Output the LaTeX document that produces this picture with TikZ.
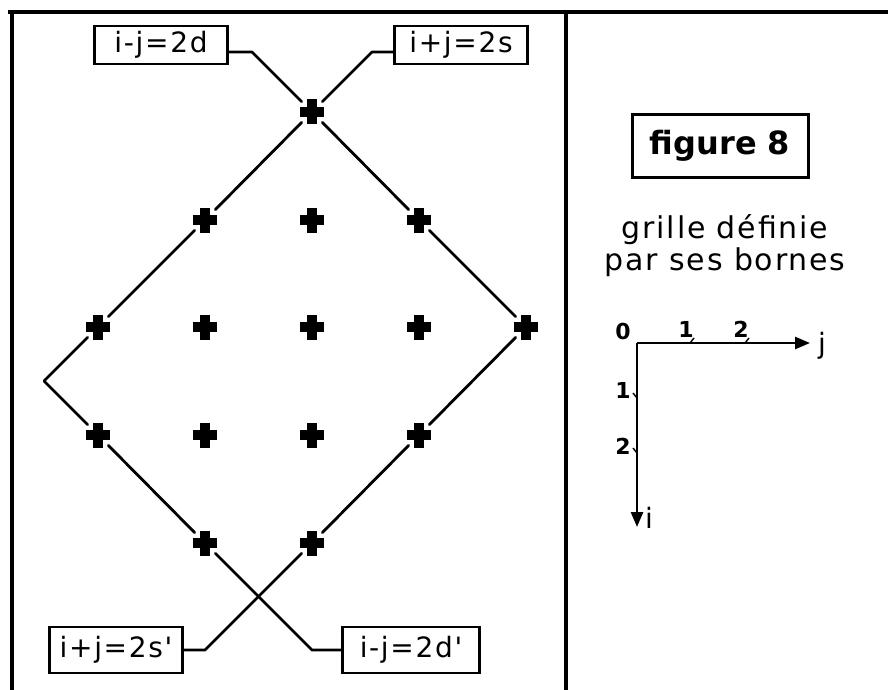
\documentclass[tikz,border=0pt]{standalone}
\usepackage{fontspec}
\setmainfont{DejaVu Sans}
\newfontfamily\lblfont[LetterSpace=6]{DejaVu Sans}
\newfontfamily\capfont[LetterSpace=6]{DejaVu Sans}
\usetikzlibrary{arrows.meta}
\tikzset{
  gpt/.style={circle, minimum size=29pt, inner sep=0pt,
    path picture={
      \fill[black] ([xshift=-12pt,yshift=-5pt]path picture bounding box.center) rectangle ([xshift=12pt,yshift=5pt]path picture bounding box.center);
      \fill[black] ([xshift=-5pt,yshift=-12.5pt]path picture bounding box.center) rectangle ([xshift=5pt,yshift=12.5pt]path picture bounding box.center);
    }},
  lbox/.style={draw, line width=2.8pt, inner sep=0pt, minimum height=38pt, font=\lblfont\fontsize{28}{30}\selectfont},
  conn/.style={line width=2.8pt, line join=round, line cap=round},
  frame/.style={line width=3.5pt},
  axlbl/.style={font=\bfseries\fontsize{22}{24}\selectfont, inner sep=0pt},
}
\begin{document}
\begin{tikzpicture}[x=1pt,y=-1pt]
\useasboundingbox (0,0) rectangle (888,690);
% frame
\draw[frame] (8,12) -- (888,12);
\draw[frame] (12,12) -- (12,690);
\draw[frame] (566,12) -- (566,690);

% grid points
\node[gpt] (t)  at (312,112) {};
\node[gpt] (a1) at (205,220) {};
\node[gpt] (b1) at (312,220) {};
\node[gpt] (c1) at (419,220) {};
\node[gpt] (a2) at (98,327) {};
\node[gpt] (b2) at (205,327) {};
\node[gpt] (c2) at (312,327) {};
\node[gpt] (d2) at (419,327) {};
\node[gpt] (e2) at (526,327) {};
\node[gpt] (a3) at (98,435) {};
\node[gpt] (b3) at (205,435) {};
\node[gpt] (c3) at (312,435) {};
\node[gpt] (d3) at (419,435) {};
\node[gpt] (a4) at (205,543) {};
\node[gpt] (b4) at (312,543) {};

% label boxes
\node[lbox, minimum width=133pt] (bd)  at (161,45) {i-j=2d};
\node[lbox, minimum width=133pt] (bs)  at (461,45) {i+j=2s};
\node[lbox, minimum width=133pt, minimum height=46pt] (bss) at (116,650) {i+j=2s'};
\node[lbox, minimum width=137pt, minimum height=46pt] (bdd) at (411,650) {i-j=2d'};

% elbows
\coordinate (ed) at (252,52);
\coordinate (es) at (372,52);
\coordinate (vl) at (44,381);
\coordinate (edd) at (312,650);
\coordinate (ess) at (205,650);

% connectors
\draw[conn] (bd.east |- ed) -- (ed) -- (t);
\draw[conn] (bs.west |- es) -- (es) -- (t);
\draw[conn] (t) -- (a1) -- (a2) -- (vl) -- (a3) -- (a4) -- (edd) -- (bdd.west);
\draw[conn] (t) -- (c1) -- (e2) -- (d3) -- (b4) -- (ess) -- (bss.east);

% right panel
\node[draw, line width=3pt, minimum width=176pt, minimum height=63pt, inner sep=0pt,
      font=\bfseries\fontsize{32}{34}\selectfont] (fig) at (720,146) {figure 8};
\node[font=\capfont\fontsize{30}{32}\selectfont, align=center, inner sep=0pt] (cap) at (725,246)
  {grille définie\\par ses bornes};

% axes
\coordinate (o) at (637,343);
\coordinate (jend) at (810,343);
\coordinate (iend) at (637,527);
\draw[line width=2.6pt, -{Triangle[length=15pt,width=12pt]}] (o) -- (jend);
\draw[line width=2.6pt, -{Triangle[length=15pt,width=12pt]}] (o) -- (iend);
\node[axlbl] (l0) at (623,331) {0};
\node[axlbl] (lj1) at (686,329) {1};
\node[axlbl] (lj2) at (741,329) {2};
\node[axlbl] (li1) at (623,390) {1};
\node[axlbl] (li2) at (623,446) {2};
\node[font=\fontsize{28}{30}\selectfont, inner sep=0pt] (lj) at (822,346) {j};
\node[font=\fontsize{28}{30}\selectfont, inner sep=0pt] (li) at (649,518) {i};
% small ticks
\draw[line width=1.4pt] (690,343) -- (694,338);
\draw[line width=1.4pt] (745,343) -- (749,338);
\draw[line width=1.4pt] (637,398) -- (633,393);
\draw[line width=1.4pt] (637,453) -- (633,448);
\end{tikzpicture}
\end{document}
